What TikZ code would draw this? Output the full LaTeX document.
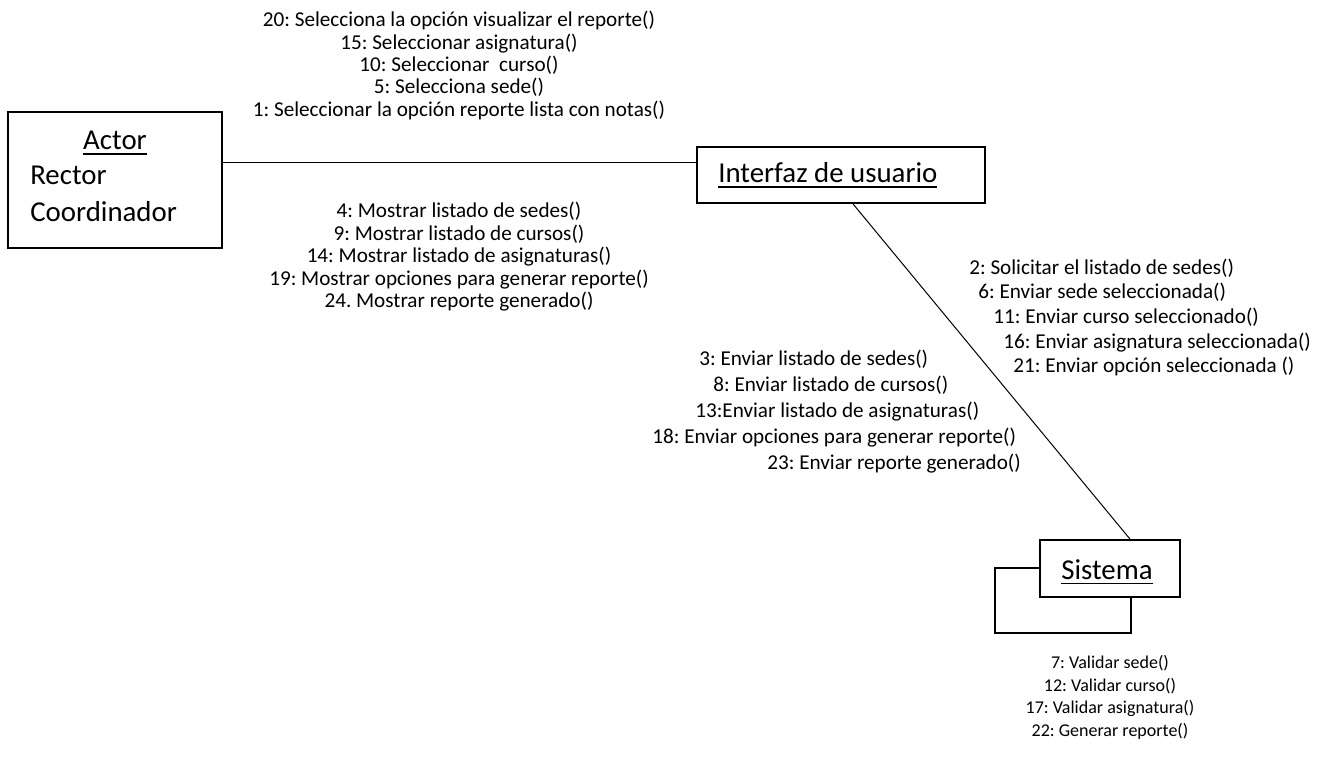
\documentclass[tikz,border=0pt]{standalone}
\usepackage{fontspec}
\setmainfont{Carlito}
\frenchspacing
\newcommand\ulword[1]{\setbox0\hbox{#1}\rlap{\rule[-3.2pt]{\wd0}{1.1pt}}\box0}
\tikzset{
  objbox/.style={draw, line width=1.1pt, fill=white, rectangle, inner sep=0pt},
  link/.style={line width=0.6pt},
  msg/.style={inner sep=0pt, font=\fontsize{12.7}{15}\selectfont},
  smallmsg/.style={inner sep=0pt, font=\fontsize{10.8}{13}\selectfont},
  title/.style={inner sep=0pt, font=\fontsize{17.3}{20}\selectfont},
}
\begin{document}
\begin{tikzpicture}[x=0.6pt, y=-0.6pt]
\useasboundingbox (0,0) rectangle (1325,768);

% object boxes
\node[objbox, minimum width=128.4pt, minimum height=81.6pt] (actor) at (115,180) {};
\node[objbox, minimum width=172.8pt, minimum height=33.6pt] (ui) at (841,175) {};
\node[objbox, minimum width=81.6pt, minimum height=39pt] (sysback) at (1063,600.5) {};
\node[objbox, minimum width=84pt, minimum height=34.2pt] (sys) at (1110,568.5) {};

% box texts
\node[title, anchor=base] (actorname) at (115,150) {\ulword{Actor}};
\node[title, anchor=base west] (rector) at (30,185) {Rector};
\node[title, anchor=base west] (coord) at (30,222) {Coordinador};
\node[title, anchor=base west] (uiname) at (718,183) {\ulword{Interfaz de usuario}};
\node[title, anchor=base] (sysname) at (1107,579) {\ulword{Sistema}};

% links
\coordinate (hl) at (0,163);
\coordinate (d1) at (853,0);
\coordinate (d2) at (1130,0);
\draw[link] (actor.east |- hl) -- (ui.west |- hl);
\draw[link] (ui.south -| d1) -- (sys.north -| d2);

% messages between actor and interface
\foreach \t [count=\i] in {%
  {20: Selecciona la opción visualizar el reporte()},
  {15: Seleccionar asignatura()},
  {10: Seleccionar\ \ curso()},
  {5: Selecciona sede()},
  {1: Seleccionar la opción reporte lista con notas()}}
  \node[msg, anchor=base] (req\i) at (459,{27+22.3*(\i-1)}) {\t};

\foreach \t [count=\i] in {%
  {4: Mostrar listado de sedes()},
  {9: Mostrar listado de cursos()},
  {14: Mostrar listado de asignaturas()},
  {19: Mostrar opciones para generar reporte()},
  {24. Mostrar reporte generado()}}
  \node[msg, anchor=base] (resp\i) at (459,{218+22.5*(\i-1)}) {\t};

% messages between interface and system
\node[msg, anchor=base west] (s1) at (969,274.5) {2: Solicitar el listado de sedes()};
\node[msg, anchor=base west] (s2) at (978,299) {6: Enviar sede seleccionada()};
\node[msg, anchor=base west] (s3) at (993,324) {11: Enviar curso seleccionado()};
\node[msg, anchor=base west] (s4) at (1003,348.5) {16: Enviar asignatura seleccionada()};
\node[msg, anchor=base west] (s5) at (1013,373) {21: Enviar opción seleccionada ()};

\node[msg, anchor=base west] (r1) at (699,366) {3: Enviar listado de sedes()};
\node[msg, anchor=base west] (r2) at (713,392) {8: Enviar listado de cursos()};
\node[msg, anchor=base west] (r3) at (695,418) {13:Enviar listado de asignaturas()};
\node[msg, anchor=base west] (r4) at (652,444) {18: Enviar opciones para generar reporte()};
\node[msg, anchor=base west] (r5) at (767,470) {23: Enviar reporte generado()};

% self messages of the system
\foreach \t [count=\i] in {%
  {7: Validar sede()},
  {12: Validar curso()},
  {17: Validar asignatura()},
  {22: Generar reporte()}}
  \node[smallmsg, anchor=base] (self\i) at (1110,{668.5+22.7*(\i-1)}) {\t};
\end{tikzpicture}
\end{document}
